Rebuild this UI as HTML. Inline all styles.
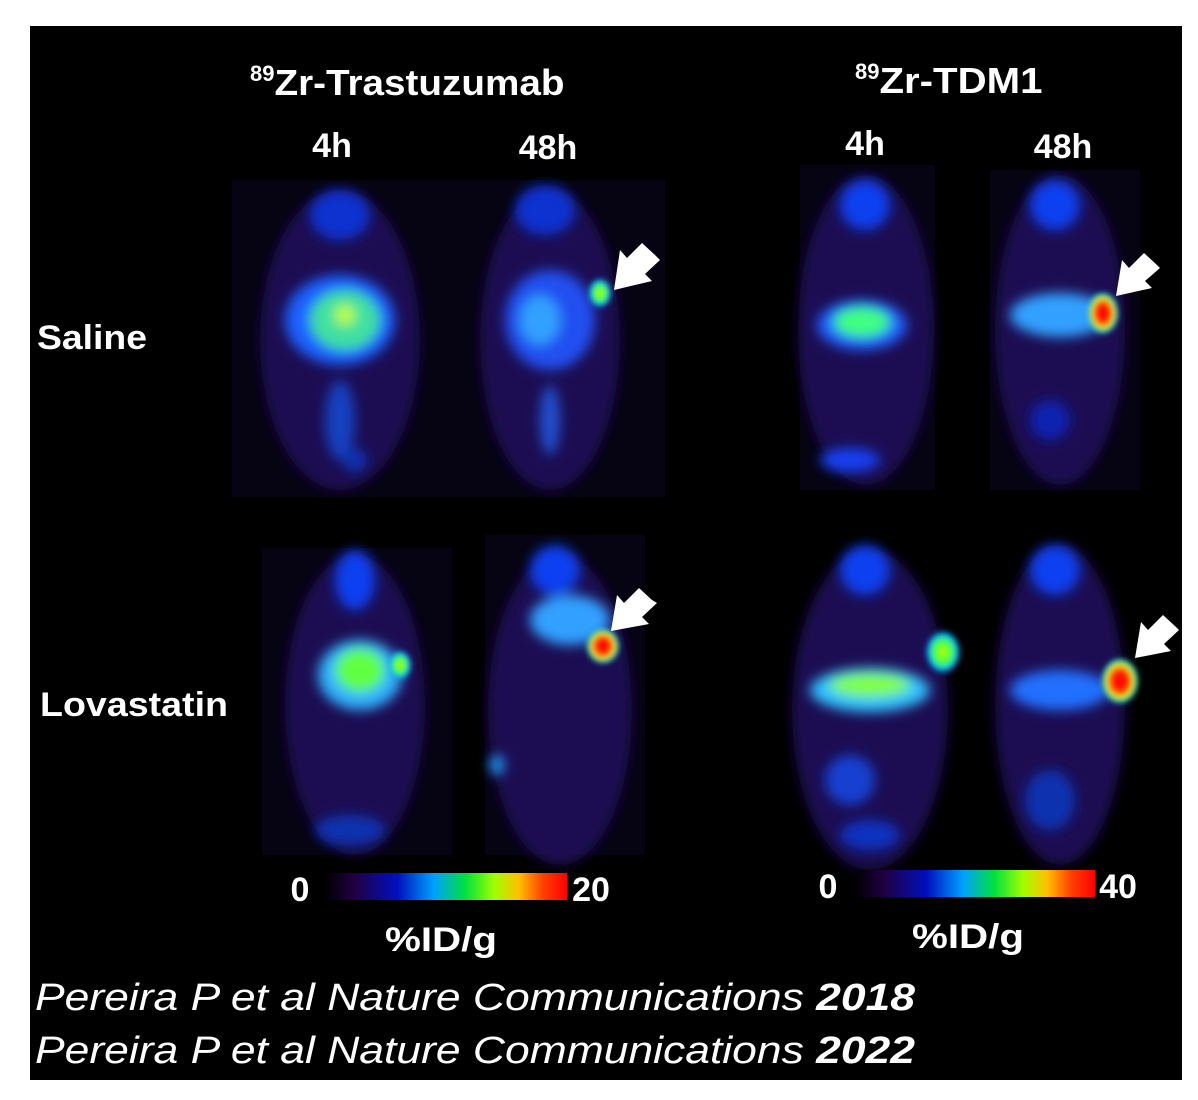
<!DOCTYPE html>
<html><head><meta charset="utf-8"><style>
html,body{margin:0;padding:0;background:#fff;}
svg{display:block;}
text{font-family:"Liberation Sans",Arial,sans-serif;fill:#fff;font-weight:bold;}
text.cite{font-weight:normal;font-style:italic;}
</style></head><body>
<svg width="1198" height="1100" viewBox="0 0 1198 1100">
<defs>
<filter id="b6" x="-50%" y="-50%" width="200%" height="200%"><feGaussianBlur stdDeviation="6"/></filter>
<filter id="b3" x="-50%" y="-50%" width="200%" height="200%"><feGaussianBlur stdDeviation="3"/></filter>
<linearGradient id="cbar" x1="0" x2="1" y1="0" y2="0">
<stop offset="0" stop-color="#000"/><stop offset="0.12" stop-color="#200040"/><stop offset="0.3" stop-color="#0010c0"/><stop offset="0.45" stop-color="#00a0ff"/><stop offset="0.58" stop-color="#00e040"/><stop offset="0.7" stop-color="#a0ff00"/><stop offset="0.8" stop-color="#ffc000"/><stop offset="0.9" stop-color="#ff4000"/><stop offset="1" stop-color="#ff0000"/>
</linearGradient>
<radialGradient id="hot"><stop offset="0" stop-color="#ff0000"/><stop offset="0.5" stop-color="#ff2000"/><stop offset="0.7" stop-color="#ffd000"/><stop offset="0.85" stop-color="#40ff40"/><stop offset="1" stop-color="#00a0ff"/></radialGradient>
<radialGradient id="grn"><stop offset="0" stop-color="#c0ff00"/><stop offset="0.5" stop-color="#40ff40"/><stop offset="0.8" stop-color="#00c0ff"/><stop offset="1" stop-color="#0030ff" stop-opacity="0"/></radialGradient>
</defs>
<rect x="30" y="26" width="1152" height="1054" fill="#000"/>

<g>
<rect x="232" y="180" width="213" height="317" fill="#060312"/>
<ellipse cx="340" cy="340" rx="80" ry="150" fill="#1a0c52" filter="url(#b6)"/>
<g filter="url(#b6)"><ellipse cx="340" cy="215" rx="30" ry="25" fill="#1030d0"/><ellipse cx="340" cy="320" rx="55" ry="45" fill="#1a60ff"/><ellipse cx="345" cy="320" rx="35" ry="30" fill="#40e0a0"/><ellipse cx="345" cy="315" rx="10" ry="10" fill="#c0ff20"/><ellipse cx="340" cy="420" rx="15" ry="40" fill="#1840c0"/><ellipse cx="355" cy="460" rx="12" ry="12" fill="#1030b0"/></g>
</g>
<g>
<rect x="445" y="180" width="220" height="317" fill="#060312"/>
<ellipse cx="550" cy="340" rx="70" ry="150" fill="#1a0c52" filter="url(#b6)"/>
<g filter="url(#b6)"><ellipse cx="545" cy="210" rx="30" ry="25" fill="#1030d0"/><ellipse cx="550" cy="320" rx="45" ry="50" fill="#2050f0"/><ellipse cx="540" cy="320" rx="20" ry="25" fill="#30a0ff"/><ellipse cx="550" cy="420" rx="10" ry="35" fill="#2050d0"/></g>
<ellipse cx="600" cy="293" rx="12" ry="15" fill="url(#grn)" filter="url(#b3)"/>
</g>
<g>
<rect x="800" y="165" width="135" height="325" fill="#060312"/>
<ellipse cx="866" cy="330" rx="68" ry="155" fill="#1a0c52" filter="url(#b6)"/>
<g filter="url(#b6)"><ellipse cx="865" cy="205" rx="25" ry="25" fill="#1040f0"/><ellipse cx="862" cy="325" rx="45" ry="25" fill="#2060ff"/><ellipse cx="862" cy="322" rx="28" ry="15" fill="#40ff80"/><ellipse cx="850" cy="460" rx="30" ry="12" fill="#1840f0"/></g>
</g>
<g>
<rect x="990" y="170" width="150" height="320" fill="#060312"/>
<ellipse cx="1060" cy="330" rx="65" ry="155" fill="#1a0c52" filter="url(#b6)"/>
<g filter="url(#b6)"><ellipse cx="1055" cy="205" rx="25" ry="25" fill="#1040f0"/><ellipse cx="1060" cy="315" rx="50" ry="22" fill="#30a0ff"/><ellipse cx="1050" cy="420" rx="20" ry="20" fill="#1020b0"/></g>
<ellipse cx="1103" cy="313" rx="15" ry="20" fill="url(#hot)" filter="url(#b3)"/>
</g>
<g>
<rect x="262" y="548" width="190" height="307" fill="#060312"/>
<ellipse cx="355" cy="705" rx="70" ry="150" fill="#1a0c52" filter="url(#b6)"/>
<g filter="url(#b6)"><ellipse cx="355" cy="580" rx="20" ry="30" fill="#1040f0"/><ellipse cx="360" cy="675" rx="42" ry="35" fill="#30b0ff"/><ellipse cx="360" cy="670" rx="25" ry="22" fill="#60ff40"/><ellipse cx="350" cy="830" rx="35" ry="15" fill="#1030b0"/></g>
<ellipse cx="400" cy="665" rx="12" ry="15" fill="url(#grn)" filter="url(#b3)"/>
</g>
<g>
<rect x="485" y="535" width="160" height="320" fill="#060312"/>
<ellipse cx="560" cy="710" rx="72" ry="155" fill="#1a0c52" filter="url(#b6)"/>
<g filter="url(#b6)"><ellipse cx="555" cy="570" rx="25" ry="25" fill="#1040f0"/><ellipse cx="570" cy="620" rx="40" ry="25" fill="#30a0ff"/><ellipse cx="497" cy="765" rx="7" ry="10" fill="#20a0ff"/></g>
<ellipse cx="603" cy="646" rx="16" ry="17" fill="url(#hot)" filter="url(#b3)"/>
</g>
<g>
<ellipse cx="870" cy="710" rx="78" ry="160" fill="#1a0c52" filter="url(#b6)"/>
<g filter="url(#b6)"><ellipse cx="865" cy="570" rx="25" ry="25" fill="#1040f0"/><ellipse cx="870" cy="690" rx="60" ry="22" fill="#30c0ff"/><ellipse cx="870" cy="685" rx="40" ry="12" fill="#80ff40"/><ellipse cx="850" cy="780" rx="25" ry="25" fill="#1840d0"/><ellipse cx="870" cy="835" rx="30" ry="15" fill="#1030c0"/></g>
<ellipse cx="943" cy="652" rx="18" ry="22" fill="url(#grn)" filter="url(#b3)"/>
</g>
<g>
<ellipse cx="1060" cy="705" rx="65" ry="160" fill="#1a0c52" filter="url(#b6)"/>
<g filter="url(#b6)"><ellipse cx="1055" cy="570" rx="25" ry="25" fill="#1040f0"/><ellipse cx="1060" cy="690" rx="50" ry="20" fill="#2070ff"/><ellipse cx="1050" cy="800" rx="25" ry="30" fill="#1030b0"/></g>
<ellipse cx="1120" cy="681" rx="18" ry="22" fill="url(#hot)" filter="url(#b3)"/>
</g>

<g fill="#fff">
<polygon points="655,255 642,243 627,258 620,250 614,290 652,281 645,274 660,260"/>
<polygon points="1157,265 1144,253 1129,268 1122,260 1116,296 1152,288 1145,281 1160,268"/>
<polygon points="652,600 639,588 624,603 617,595 611,631 649,624 642,617 657,603"/>
<polygon points="1176,627 1163,615 1148,630 1141,622 1135,658 1171,651 1164,644 1179,630"/>
</g>

<text x="250" y="95" font-size="36"><tspan font-size="22" dy="-14">89</tspan><tspan dy="14" textLength="290" lengthAdjust="spacingAndGlyphs">Zr-Trastuzumab</tspan></text>
<text x="855" y="93" font-size="36"><tspan font-size="22" dy="-14">89</tspan><tspan dy="14" textLength="163" lengthAdjust="spacingAndGlyphs">Zr-TDM1</tspan></text>
<text x="332" y="157" font-size="34" text-anchor="middle">4h</text>
<text x="548" y="159" font-size="34" text-anchor="middle">48h</text>
<text x="865" y="155" font-size="34" text-anchor="middle">4h</text>
<text x="1063" y="158" font-size="34" text-anchor="middle">48h</text>
<text x="37" y="349" font-size="34" textLength="110" lengthAdjust="spacingAndGlyphs">Saline</text>
<text x="40" y="716" font-size="34" textLength="188" lengthAdjust="spacingAndGlyphs">Lovastatin</text>

<rect x="325" y="873" width="242" height="27" fill="url(#cbar)"/>
<text x="300" y="901" font-size="34" text-anchor="middle">0</text>
<text x="591" y="901" font-size="34" text-anchor="middle">20</text>
<text x="385" y="951" font-size="34" textLength="112" lengthAdjust="spacingAndGlyphs">%ID/g</text>
<rect x="855" y="870" width="240" height="27" fill="url(#cbar)"/>
<text x="828" y="898" font-size="34" text-anchor="middle">0</text>
<text x="1118" y="898" font-size="34" text-anchor="middle">40</text>
<text x="912" y="948" font-size="34" textLength="112" lengthAdjust="spacingAndGlyphs">%ID/g</text>

<text class="cite" x="35" y="1010" font-size="38" textLength="880" lengthAdjust="spacingAndGlyphs">Pereira P et al Nature Communications <tspan font-weight="bold">2018</tspan></text>
<text class="cite" x="35" y="1063" font-size="38" textLength="880" lengthAdjust="spacingAndGlyphs">Pereira P et al Nature Communications <tspan font-weight="bold">2022</tspan></text>
</svg>
</body></html>
